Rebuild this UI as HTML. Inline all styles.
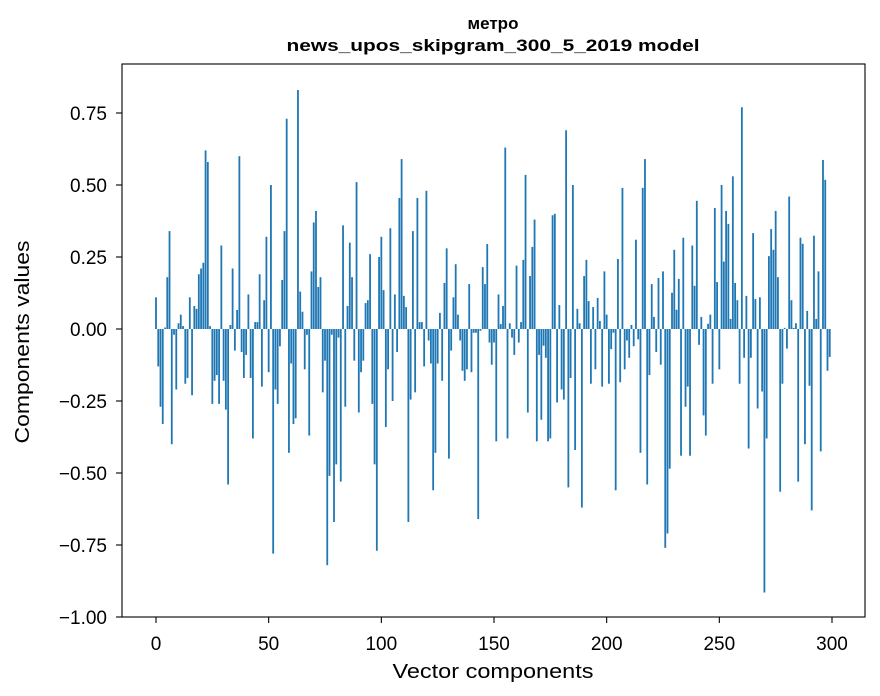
<!DOCTYPE html>
<html><head><meta charset="utf-8"><style>
html,body{margin:0;padding:0;background:#fff;}
svg{display:block;font-family:"Liberation Sans","DejaVu Sans",sans-serif;}
</style></head><body>
<svg id="chart" width="880" height="696" viewBox="0 0 880 696" xmlns="http://www.w3.org/2000/svg">
<rect x="0" y="0" width="880" height="696" fill="#fff"/>
<text x="493" y="29" text-anchor="middle" font-size="17" font-weight="bold">метро</text>
<text x="493" y="51" text-anchor="middle" font-size="17" font-weight="bold" textLength="413" lengthAdjust="spacingAndGlyphs">news_upos_skipgram_300_5_2019 model</text>
<g id="bars"></g>
<g id="axes"></g>
<rect x="122" y="64" width="743" height="553" fill="none" stroke="#000" stroke-width="1.1"/>
<text x="493" y="678" text-anchor="middle" font-size="20" textLength="201" lengthAdjust="spacingAndGlyphs">Vector components</text>
<text transform="translate(29,342) rotate(-90)" text-anchor="middle" font-size="20" textLength="203" lengthAdjust="spacingAndGlyphs">Components values</text>
</svg>
<script>
const values = [
0.11,-0.13,-0.27,-0.33,0.005,0.18,0.34,-0.40,-0.02,-0.21,
0.02,0.05,0.01,-0.19,-0.17,0.11,-0.23,0.08,0.07,0.19,
0.21,0.23,0.62,0.58,0.01,-0.26,-0.18,-0.16,-0.26,0.29,
-0.18,-0.28,-0.54,0.014,0.21,-0.075,0.066,0.60,-0.08,-0.17,
-0.09,0.12,-0.17,-0.38,0.024,0.024,0.19,-0.20,0.10,0.32,
-0.15,0.50,-0.78,-0.21,-0.26,-0.06,0.17,0.34,0.73,-0.43,
-0.12,-0.33,-0.31,0.83,0.13,0.06,-0.14,-0.02,-0.37,0.20,
0.37,0.41,0.146,0.18,-0.22,-0.11,-0.82,-0.51,-0.02,-0.67,
-0.47,-0.03,-0.53,0.36,-0.27,0.08,0.30,0.18,-0.11,0.51,
-0.29,-0.15,-0.11,0.09,0.10,0.26,-0.26,-0.47,-0.77,0.25,
0.32,0.135,-0.34,-0.14,0.35,-0.25,0.12,-0.08,0.455,0.59,
0.115,0.076,-0.67,-0.245,0.34,-0.22,0.455,0.024,0.024,-0.13,
0.48,-0.04,-0.12,-0.56,-0.43,-0.12,0.056,-0.18,0.16,0.28,
-0.45,-0.075,0.11,0.225,0.05,-0.04,-0.145,-0.18,-0.14,0.156,
-0.15,-0.013,-0.013,-0.66,-0.006,0.215,0.156,0.295,-0.047,-0.124,
-0.047,-0.39,0.12,0.017,0.08,0.63,-0.38,0.02,-0.03,-0.09,
0.22,-0.047,0.024,0.24,0.535,-0.29,0.184,0.285,0.38,-0.39,
-0.09,-0.315,-0.058,-0.10,-0.39,-0.38,0.395,0.40,-0.255,0.083,
-0.21,-0.245,0.69,-0.55,-0.17,0.50,-0.42,0.07,0.02,-0.62,
0.184,0.24,0.097,-0.19,0.076,-0.14,0.108,0.028,-0.20,0.20,
0.05,-0.19,-0.07,-0.013,-0.56,0.243,-0.185,0.49,-0.14,-0.04,
-0.10,0.014,-0.06,0.31,-0.036,-0.43,0.49,0.59,-0.54,-0.16,
0.156,0.042,-0.08,0.177,-0.124,0.20,-0.76,-0.71,-0.485,0.126,
0.275,0.067,0.174,-0.44,0.317,-0.27,-0.20,-0.44,0.29,0.15,
0.445,-0.055,0.042,-0.30,-0.37,0.018,0.05,-0.19,0.42,0.163,
-0.14,0.50,0.234,0.41,0.365,0.035,0.53,0.16,0.10,-0.19,
0.77,-0.10,0.115,-0.415,-0.10,0.333,0.104,-0.276,0.11,-0.217,
-0.915,-0.38,0.253,0.347,0.275,0.41,0.18,-0.565,-0.19,0.004,
-0.068,0.46,0.10,0.004,0.02,-0.53,0.317,0.296,-0.40,0.063,
-0.197,-0.63,0.324,0.035,0.20,-0.425,0.587,0.518,-0.145,-0.097
];
const yTicks = [0.75,0.5,0.25,0,-0.25,-0.5,-0.75,-1.0];
const yTickLabels = ["0.75","0.50","0.25","0.00","\u22120.25","\u22120.50","\u22120.75","\u22121.00"];
const xTicks = [0,50,100,150,200,250,300];
const xTickLabels = ["0","50","100","150","200","250","300"];

const NS = "http://www.w3.org/2000/svg";
function xScale(v){ return 156 + v * (676/300); }
function yScale(v){ return 329 - v * 288; }
const barsG = document.getElementById('bars');
const axesG = document.getElementById('axes');
const bw = 0.8 * (676/300);
values.forEach(function(v,i){
  const r = document.createElementNS(NS,'rect');
  const y0 = yScale(0), y1 = yScale(v);
  r.setAttribute('x', xScale(i) - bw/2);
  r.setAttribute('y', Math.min(y0,y1));
  r.setAttribute('width', bw);
  r.setAttribute('height', Math.max(Math.abs(y1-y0),0.3));
  r.setAttribute('fill', '#1f77b4');
  
  
  barsG.appendChild(r);
});
yTicks.forEach(function(t,i){
  const y = yScale(t);
  const l = document.createElementNS(NS,'line');
  l.setAttribute('x1',122); l.setAttribute('x2',116);
  l.setAttribute('y1',y); l.setAttribute('y2',y);
  l.setAttribute('stroke','#000'); l.setAttribute('stroke-width','1.1');
  
  
  axesG.appendChild(l);
  const tx = document.createElementNS(NS,'text');
  tx.setAttribute('x',107); tx.setAttribute('y',y+7);
  tx.setAttribute('text-anchor','end'); tx.setAttribute('font-size','19');
  tx.textContent = yTickLabels[i];
  
  
  axesG.appendChild(tx);
});
xTicks.forEach(function(t,i){
  const x = xScale(t);
  const l = document.createElementNS(NS,'line');
  l.setAttribute('x1',x); l.setAttribute('x2',x);
  l.setAttribute('y1',617); l.setAttribute('y2',623);
  l.setAttribute('stroke','#000'); l.setAttribute('stroke-width','1.1');
  
  
  axesG.appendChild(l);
  const tx = document.createElementNS(NS,'text');
  tx.setAttribute('x',x); tx.setAttribute('y',650);
  tx.setAttribute('text-anchor','middle'); tx.setAttribute('font-size','19');
  tx.textContent = xTickLabels[i];
  
  
  axesG.appendChild(tx);
});
</script>
</body></html>
